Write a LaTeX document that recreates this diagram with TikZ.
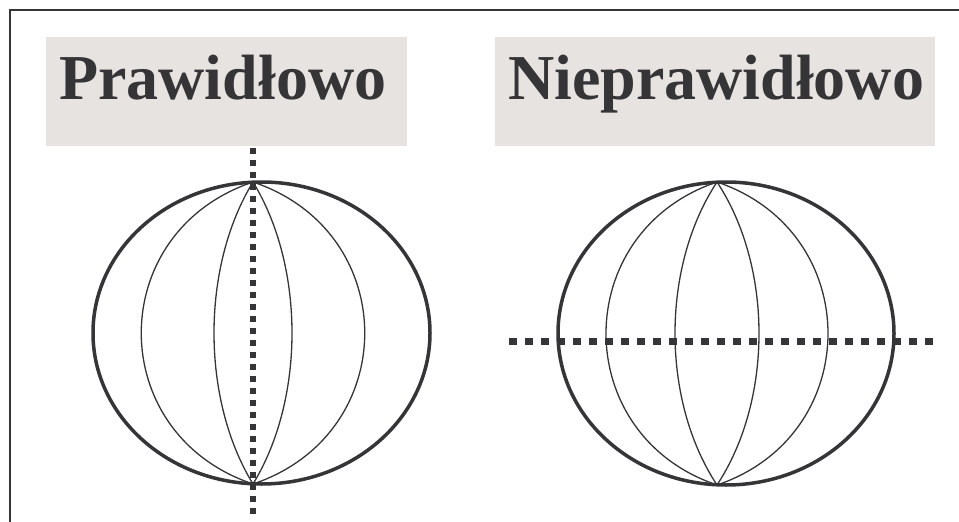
\documentclass[tikz,border=0pt]{standalone}
\usepackage{fontspec}
\setmainfont{Liberation Serif}
\usetikzlibrary{positioning}
\definecolor{ink}{HTML}{353538}
\definecolor{hdrgray}{HTML}{E6E3E0}

\begin{document}
\begin{tikzpicture}[x=1pt,y=-1pt,
    rim/.style={ink,line width=3.5pt},
    merid/.style={ink,line width=1.3pt},
    hdr/.style={font=\bfseries\fontsize{64}{68}\selectfont,text=ink,inner sep=0pt,anchor=base west},
    vdots/.style={ink,line width=6pt,dash pattern=on 6pt off 6pt},
    hdots/.style={ink,line width=7pt,dash pattern=on 8pt off 8pt}]
        \useasboundingbox (0,0) rectangle (959,522);
        \draw[ink,line width=2pt] (10,522) -- (10,10) -- (959,10);
        % headers
        \fill[hdrgray] (46,37) rectangle (407,146);
        \fill[hdrgray] (495,37) rectangle (935,146);
        \node[hdr] (good) at (59,99) {Prawidłowo};
        \node[hdr] (bad) at (508,99) {Nieprawidłowo};
        % left globe, cut along the axis
        \draw[rim] (261.5,333) ellipse (168.5 and 151);
        \foreach \k/\a in {-149/50,-52/85,52/85,149/50}
            \draw[merid] (253,182) .. controls (253+\k,182+\a) and (253+\k,484-\a) .. (253,484);
        \draw[vdots] (253,148) -- (253,514);
        % right globe, cut across
        \draw[rim] (726,333.5) ellipse (168 and 151.5);
        \foreach \k/\a in {-148/50,-56/85,56/85,148/50}
            \draw[merid] (717,182) .. controls (717+\k,182+\a) and (717+\k,485-\a) .. (717,485);
        \draw[hdots] (509,341) -- (934,341);
    \end{tikzpicture}
\end{document}
